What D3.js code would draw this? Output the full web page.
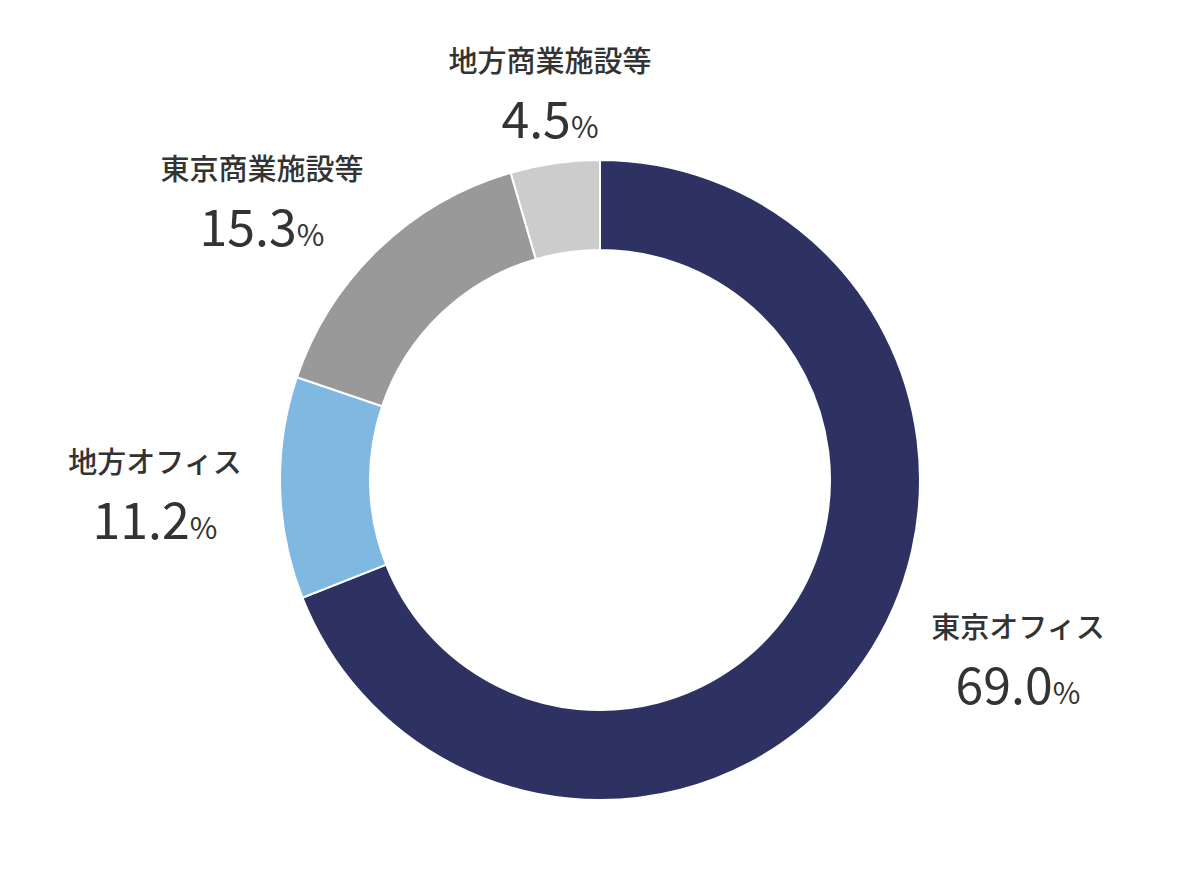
<!DOCTYPE html>
<html><head><meta charset="utf-8">
<script src="https://cdn.jsdelivr.net/npm/d3@7"></script>
<style>body{margin:0;background:#fff}</style></head>
<body><svg id="c" width="1200" height="880"></svg>
<script>
const categories = ["東京オフィス","地方オフィス","東京商業施設等","地方商業施設等"];
const values = [69.0, 11.2, 15.3, 4.5];
const colors = ["#2d3262","#7fb8e0","#999999","#cccccc"];
const labelAnchors = [[1018,628],[155,463],[262,170],[550,62]];

const svg = d3.select("#c");
const g = svg.append("g").attr("transform","translate(600,480)");
const pie = d3.pie().sort(null).value(d=>d)(values);
const arc = d3.arc().innerRadius(230).outerRadius(320);
g.selectAll("path").data(pie).join("path")
  .attr("d",arc).attr("fill",(d,i)=>colors[i])
  .attr("stroke","#fff").attr("stroke-width",2);

const font = "'Noto Sans CJK JP','Noto Sans',sans-serif";
categories.forEach((c,i)=>{
  const [x,y]=labelAnchors[i];
  svg.append("text").attr("x",x).attr("y",y+10).attr("text-anchor","middle")
    .attr("font-family",font).attr("font-size",29).attr("font-weight",500).attr("fill","#333").text(c);
  const t = svg.append("text").attr("x",x).attr("y",y+76).attr("text-anchor","middle")
    .attr("font-family",font).attr("fill","#333");
  t.append("tspan").attr("font-size",50).text(values[i].toFixed(1));
  t.append("tspan").attr("font-size",30).text("%");
});
</script></body></html>
